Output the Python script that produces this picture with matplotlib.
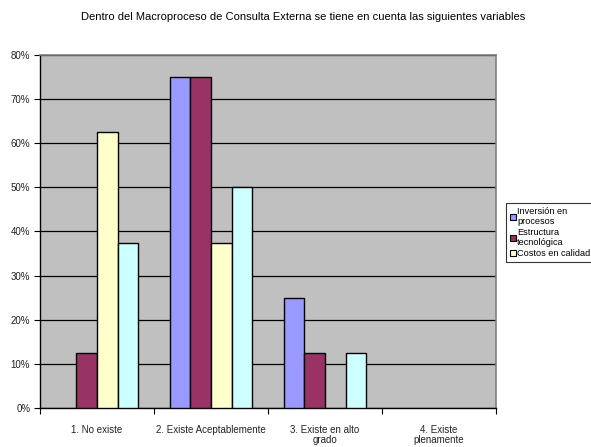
import matplotlib
matplotlib.use("Agg")
import matplotlib.pyplot as plt
import numpy as np
from matplotlib.patches import Rectangle
from matplotlib.ticker import FuncFormatter

plt.rcParams['font.family'] = ['Liberation Sans', 'DejaVu Sans']

categories = ["1. No existe", "2. Existe Aceptablemente", "3. Existe en alto\ngrado", "4. Existe\nplenamente"]
series_names = ["Inversión en\nprocesos", "Estructura\ntecnológica", "Costos en calidad", "Serie 4"]
inversion = [0, 75, 25, 0]
estructura = [12.5, 75, 12.5, 0]
costos = [62.5, 37.5, 0, 0]
serie4 = [37.5, 50, 12.5, 0]
colors = ["#9999FF", "#993366", "#FFFFCC", "#CCFFFF"]
yticks = [0, 10, 20, 30, 40, 50, 60, 70, 80]

fig = plt.figure(figsize=(5.91, 4.47), dpi=100)
ax = fig.add_axes([40/591, 1-408/447, (496-40)/591, (408-55)/447])
ax.set_facecolor("#C0C0C0")

data = [inversion, estructura, costos, serie4]
x = np.arange(len(categories))
w = 1/5.5
for i, vals in enumerate(data):
    vals = np.array(vals, dtype=float)
    nz = vals > 0
    ax.bar((x - 2*w + (i+0.5)*w)[nz], vals[nz], width=w, color=colors[i], edgecolor="black",
           linewidth=1.0, zorder=3)

ax.set_xlim(-0.5, 3.5)
ax.set_ylim(0, 80)
ax.set_yticks(yticks)
ax.yaxis.set_major_formatter(FuncFormatter(lambda v, p: f"{int(v)}%"))
ax.grid(axis='y', color='black', linewidth=0.9, zorder=1)
ax.set_xticks(np.arange(-0.5, 4.0, 1.0), minor=False)
ax.set_xticklabels([])
ax.set_xticks(x, minor=True)
ax.set_xticklabels(categories, minor=True, fontsize=7, color="#222222")
ax.tick_params(axis='x', which='minor', length=0, pad=12)
ax.tick_params(axis='x', which='major', length=4, direction='out', color='black')
ax.tick_params(axis='y', length=4, direction='out', labelsize=7, labelcolor="#222222", pad=3)
for s in ['top', 'right']:
    ax.spines[s].set_color('#808080')
    ax.spines[s].set_linewidth(1.2)
ax.spines['left'].set_color('black')
ax.spines['bottom'].set_color('black')
ax.spines['left'].set_linewidth(1.0)
ax.spines['bottom'].set_linewidth(1.0)
for lbl in ax.get_xticklabels(minor=True):
    lbl.set_linespacing(1.0)

fig.text(303/591, 1-17/447, "Dentro del Macroproceso de Consulta Externa se tiene en cuenta las siguientes variables",
         ha='center', va='center', fontsize=8)

# legend (box runs past the right edge, as in the reference)
handles = [Rectangle((0, 0), 1, 1, facecolor=colors[i], edgecolor='black', linewidth=0.8) for i in range(3)]
leg = fig.legend(handles, series_names[:3], loc='upper left', bbox_to_anchor=(506/591, 1-203/447),
                 fontsize=6.6, frameon=True, handlelength=0.6, handleheight=0.6, handletextpad=0.15,
                 borderpad=0.45, labelspacing=0.2, borderaxespad=0)
leg.get_frame().set_edgecolor('black')
leg.get_frame().set_linewidth(0.8)
leg.get_frame().set_boxstyle('square', pad=0)
for t in leg.get_texts():
    t.set_linespacing(1.15)

fig.savefig("out.png", dpi=100)
